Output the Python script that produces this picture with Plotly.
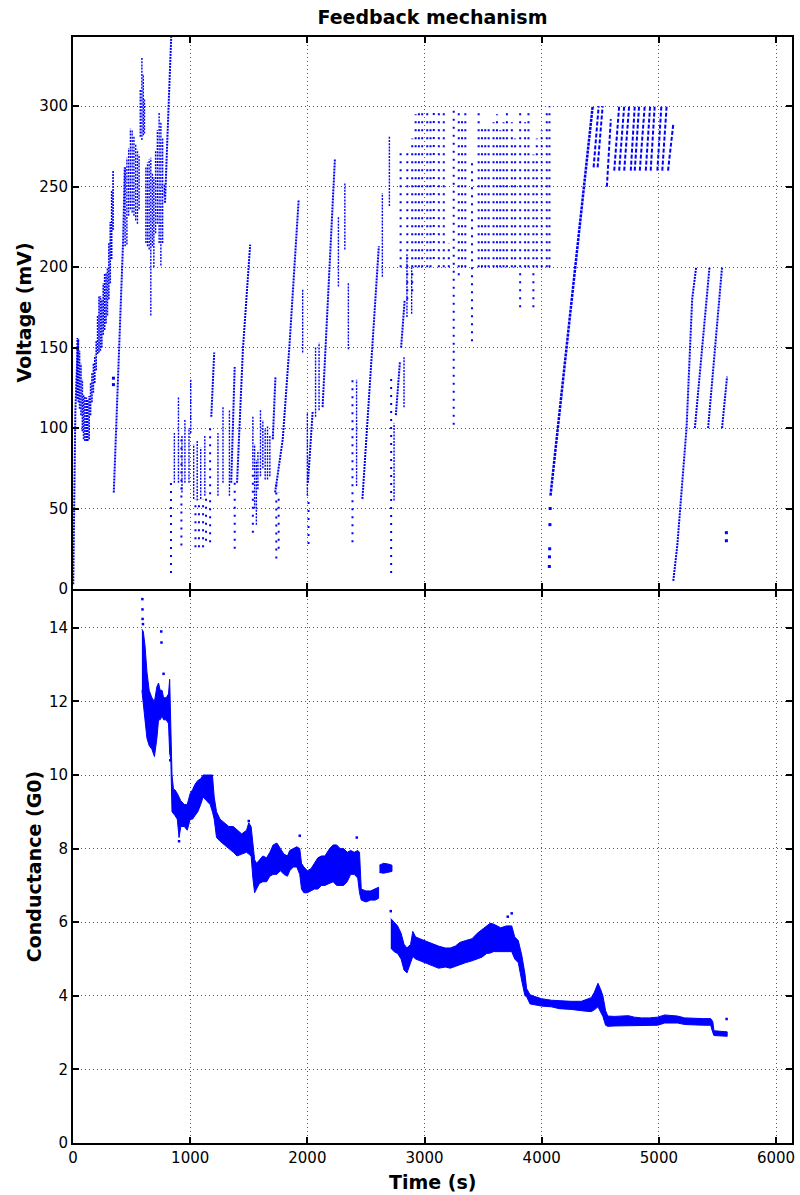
import plotly.graph_objects as go

BLUE = "#0000ff"

# ---------------- Voltage (top panel) ----------------
# dense sweep columns at the start (time s, low mV, high mV)
left_col_t = [36, 46, 56, 68, 80, 90, 102, 114, 126, 138, 150, 162, 174, 186, 198,
              210, 222, 234, 246, 258, 270, 282, 294, 306, 318, 330, 342]
left_col_lo = [118, 116, 112, 108, 98, 93, 92, 92, 92, 93, 108, 116, 122, 128, 136,
               146, 147, 148, 150, 158, 161, 165, 170, 180, 190, 205, 223]
left_col_hi = [156, 155, 148, 140, 130, 121, 120, 119, 118, 120, 128, 134, 140, 145, 154,
               170, 182, 182, 180, 190, 196, 196, 200, 215, 228, 248, 260]

# medium-density columns
mid_col_t = [445, 460, 475, 490, 505, 520, 535, 550, 564,
             574, 588, 600, 610,
             622, 636, 650, 664, 678,
             690, 705, 720, 735, 750, 765, 780,
             865, 900, 930, 955, 990, 1005, 1030, 1060, 1090, 1125,
             1237, 1280, 1335, 1535, 1550, 1565, 1578,
             1600, 1620, 1640, 1660, 1680,
             1960, 2000, 2070, 2100, 2265, 2320, 2350, 2420,
             2640, 2700, 2740, 2825, 2850, 2890]
mid_col_lo = [213, 214, 232, 236, 234, 232, 229, 227, 236,
              281, 279, 282, 283,
              215, 213, 211, 170, 213,
              200, 221, 227, 215, 201, 215, 244,
              66, 66, 60, 66, 66, 97, 56, 55, 56, 58,
              58, 66, 58, 74, 50, 40, 62,
              70, 75, 68, 68, 70,
              147, 58, 107, 111, 188, 211, 149, 64,
              194, 238, 55, 113, 169, 171]
mid_col_hi = [262, 268, 274, 286, 285, 281, 276, 273, 270,
              310, 330, 320, 305,
              262, 265, 267, 268, 258,
              256, 272, 285, 296, 290, 280, 252,
              97, 119, 95, 105, 100, 130, 90, 92, 88, 95,
              97, 113, 111, 107, 90, 80, 86,
              111, 105, 100, 101, 95,
              186, 110, 150, 153, 231, 252, 190, 130,
              246, 281, 103, 144, 208, 200]

# sparse columns (isolated low-voltage excursions)
sparse_col_t = [836, 925, 1045, 1075, 1110, 1135, 1170, 1380, 1535, 1735, 1755, 2010, 2385, 2715]
sparse_col_lo = [10, 27, 26, 26, 26, 30, 29, 25, 35, 19, 25, 28, 29, 10]
sparse_col_hi = [66, 95, 56, 56, 56, 60, 102, 66, 74, 66, 60, 58, 130, 132]

# stepped grid columns 2800-4070 s
grid_col_t = [2796, 2853, 2895, 2924, 2952, 2980, 3023, 3051, 3079, 3122, 3164, 3207,
              3249, 3292, 3320, 3348, 3405, 3462, 3490, 3518, 3547, 3589, 3618, 3646,
              3674, 3703, 3745, 3773, 3816, 3858, 3887, 3929, 3958, 4000, 4043, 4066]
grid_col_lo = [200, 180, 185, 200, 200, 200, 200, 200, 205, 200, 200, 200,
               102, 195, 200, 200, 154, 200, 200, 200, 200, 200, 200, 200,
               200, 200, 200, 200, 175, 200, 200, 175, 200, 200, 200, 200]
grid_col_hi = [271, 272, 280, 295, 298, 296, 298, 293, 298, 298, 298, 215,
               298, 298, 292, 298, 265, 298, 288, 286, 288, 290, 295, 285,
               290, 296, 290, 280, 296, 290, 298, 270, 280, 285, 296, 300]

# continuous ramps (polylines, None separates ramps)
ramp_t = [2, 10, 20, 32, 45, None,
          348, 428, 442, None,
          785, 838, None,
          1180, 1205, None,
          1350, 1380, None,
          1400, 1450, 1512, None,
          1705, 1728, None,
          1725, 1790, 1847, 1926, None,
          2005, 2045, None,
          2130, 2235, None,
          2470, 2555, 2610, None,
          2755, 2790, None,
          2800, 2830, None,
          5123, 5157, 5236, 5284, 5318, None,
          5307, 5432, None,
          5420, 5539, None,
          5539, 5582]
ramp_v = [3, 75, 110, 135, 156, None,
          60, 217, 262, None,
          240, 343, None,
          107, 147, None,
          66, 138, None,
          66, 149, 214, None,
          93, 132, None,
          60, 93, 151, 242, None,
          66, 110, None,
          113, 267, None,
          56, 151, 213, None,
          108, 141, None,
          150, 179, None,
          5, 27, 100, 180, 200, None,
          100, 200, None,
          100, 200, None,
          100, 132]

# long ramp 4070-4435 s
big_ramp_t = [4075, 4256, 4435]
big_ramp_v = [58, 180, 300]

# short saw-tooth strokes 4440-5125 s (start/end)
stripe_t0 = [4443, 4477, 4556, 4619, 4661, 4704, 4760, 4794, 4837, 4888, 4930, 4987, 5029, 5078]
stripe_v0 = [262, 262, 250, 260, 260, 260, 260, 260, 260, 260, 260, 260, 260, 260]
stripe_t1 = [4486, 4520, 4590, 4661, 4704, 4746, 4794, 4831, 4879, 4925, 4964, 5021, 5066, 5123]
stripe_v1 = [300, 300, 292, 300, 300, 300, 300, 300, 300, 300, 300, 300, 300, 289]

# isolated voltage points
dot_t = [345, 345, 4065, 4066, 4068, 4070, 4072, 5576, 5576]
dot_v = [131, 127, 14, 20, 25, 40, 50, 30, 35]

# ---------------- Conductance (bottom panel) ----------------
segA_t = [588, 600, 615, 631, 650, 673, 695, 716, 730, 744, 760, 773, 795, 815, 825, 835, 845, 858,
          870, 890, 905, 920, 950, 975, 1000, 1020, 1042, 1065, 1090, 1110, 1140, 1170, 1190, 1205,
          1225, 1255, 1290, 1330, 1368, 1400, 1440, 1481, 1500, 1520, 1535, 1550, 1567, 1590, 1620,
          1652, 1680, 1708, 1740, 1770, 1800, 1830, 1850, 1880, 1910, 1935, 1950, 1970, 2000, 2030,
          2060, 2090, 2120, 2150, 2190, 2220, 2250, 2280, 2310, 2340, 2370, 2400, 2430, 2445, 2460,
          2500, 2540, 2580, 2608]
segA_lo = [12.3, 12.0, 11.5, 11.0, 10.8, 10.7, 10.5, 11.0, 11.5, 11.5, 11.6, 11.5, 11.5, 11.4, 10.6,
           10.4, 9.0, 8.95, 8.9, 8.8, 8.3, 8.6, 8.6, 8.5, 8.8, 8.8, 8.9, 9.0, 9.2, 9.4, 9.3, 9.2, 9.0,
           8.8, 8.3, 8.2, 8.1, 8.0, 7.9, 7.8, 7.85, 7.9, 7.85, 7.8, 7.2, 6.8, 6.9, 7.05, 7.1, 7.1,
           7.25, 7.3, 7.3, 7.4, 7.3, 7.25, 7.4, 7.5, 7.5, 7.3, 6.9, 6.8, 6.8, 6.85, 6.9, 6.9, 7.0,
           7.0, 7.05, 7.1, 7.0, 7.0, 7.0, 7.1, 7.3, 7.3, 7.2, 6.8, 6.6, 6.55, 6.6, 6.6, 6.65]
segA_hi = [13.96, 13.9, 13.5, 12.8, 12.3, 12.1, 12.0, 12.4, 12.5, 12.3, 12.3, 12.1, 12.1, 12.2, 12.6,
           11.6, 10.0, 9.6, 9.6, 9.5, 9.4, 9.3, 9.2, 9.2, 9.5, 9.6, 9.75, 9.85, 9.9, 10.0, 10.0, 10.0,
           10.0, 9.4, 9.0, 8.8, 8.7, 8.6, 8.6, 8.5, 8.4, 8.5, 8.7, 8.6, 8.2, 7.7, 7.6, 7.7, 7.8, 7.75,
           7.9, 8.1, 8.15, 8.0, 7.85, 7.8, 7.95, 8.0, 8.05, 8.0, 7.6, 7.5, 7.4, 7.45, 7.6, 7.75, 7.8,
           7.8, 8.0, 8.1, 8.1, 8.0, 8.0, 7.9, 7.95, 7.9, 7.95, 7.9, 6.9, 6.85, 6.85, 6.9, 6.95]

segB_t = [2615, 2650, 2690, 2722]
segB_lo = [7.35, 7.33, 7.35, 7.38]
segB_hi = [7.55, 7.6, 7.58, 7.55]

segC_t = [2712, 2740, 2770, 2800, 2825, 2850, 2881, 2900, 2924, 2960, 3000, 3037, 3080, 3120, 3178,
          3220, 3263, 3300, 3350, 3405, 3450, 3490, 3530, 3560, 3588, 3617, 3650, 3700, 3744, 3770,
          3800, 3830, 3857, 3871, 3900, 3942, 4000, 4083, 4150, 4250, 4338, 4380, 4423, 4450, 4480,
          4500, 4522, 4545, 4564, 4620, 4680, 4740, 4790, 4850, 4920, 4989, 5050, 5100, 5159, 5220,
          5300, 5380, 5442, 5460, 5470, 5583]
segC_lo = [5.3, 5.2, 5.15, 5.0, 4.7, 4.62, 4.9, 5.07, 5.0, 4.95, 4.9, 4.85, 4.8, 4.75, 4.78, 4.75,
           4.8, 4.85, 4.9, 4.95, 5.0, 5.05, 5.15, 5.16, 5.2, 5.2, 5.2, 5.2, 5.2, 5.0, 4.9, 4.4, 4.0,
           3.98, 3.78, 3.76, 3.72, 3.7, 3.65, 3.63, 3.6, 3.58, 3.57, 3.62, 3.7, 3.6, 3.44, 3.2, 3.17,
           3.18, 3.2, 3.2, 3.18, 3.18, 3.2, 3.2, 3.26, 3.27, 3.26, 3.22, 3.2, 3.2, 3.2, 3.0, 2.92, 2.9]
segC_hi = [6.1, 6.0, 5.9, 5.7, 5.4, 5.3, 5.4, 5.75, 5.6, 5.55, 5.5, 5.45, 5.4, 5.35, 5.3, 5.3, 5.35,
           5.45, 5.5, 5.55, 5.7, 5.8, 5.9, 5.97, 5.95, 5.9, 5.85, 5.9, 5.9, 5.6, 5.5, 5.1, 4.6, 4.2,
           4.03, 3.98, 3.92, 3.88, 3.86, 3.85, 3.85, 3.9, 3.95, 4.1, 4.34, 4.2, 4.0, 3.6, 3.45, 3.44,
           3.46, 3.46, 3.42, 3.4, 3.4, 3.42, 3.48, 3.47, 3.45, 3.4, 3.38, 3.38, 3.38, 3.3, 3.05, 3.02]

outlier_t = [592, 593, 594, 597, 753, 755, 773, 830, 905, 1500, 1935, 2422, 2712, 3710, 3744, 5578]
outlier_g = [14.78, 14.5, 14.24, 14.1, 13.9, 13.6, 12.75, 10.4, 8.2, 8.75, 8.35, 8.3, 6.3, 6.15, 6.24, 3.37]


def columns_xy(ts, los, his):
    xs, ys = [], []
    for t, lo, hi in zip(ts, los, his):
        xs += [t, t, None]
        ys += [lo, hi, None]
    return xs, ys


def strokes_xy(t0, v0, t1, v1):
    xs, ys = [], []
    for a, b, c, d in zip(t0, v0, t1, v1):
        xs += [a, c, None]
        ys += [b, d, None]
    return xs, ys


def band_xy(ts, lo, hi):
    return list(ts) + list(ts)[::-1], list(hi) + list(lo)[::-1]


fig = go.Figure()


def add_lines(xs, ys, width, dash, xa="x", ya="y"):
    fig.add_trace(go.Scatter(x=xs, y=ys, mode="lines", xaxis=xa, yaxis=ya,
                             line=dict(color=BLUE, width=width, dash=dash),
                             hoverinfo="skip", showlegend=False))


x, y = columns_xy(left_col_t, left_col_lo, left_col_hi)
add_lines(x, y, 1.6, "2px,1px")
x, y = columns_xy(mid_col_t, mid_col_lo, mid_col_hi)
add_lines(x, y, 1.4, "2px,1.2px")
x, y = columns_xy(sparse_col_t, sparse_col_lo, sparse_col_hi)
add_lines(x, y, 2, "2px,6px")
x, y = columns_xy(grid_col_t, grid_col_lo, grid_col_hi)
add_lines(x, y, 2, "2px,6px")
add_lines(ramp_t, ramp_v, 2, "2px,1px")
add_lines(big_ramp_t, big_ramp_v, 2.5, "3px,1px")
x, y = strokes_xy(stripe_t0, stripe_v0, stripe_t1, stripe_v1)
add_lines(x, y, 2, "4px,2px")
fig.add_trace(go.Scatter(x=dot_t, y=dot_v, mode="markers", xaxis="x", yaxis="y",
                         marker=dict(color=BLUE, size=3, symbol="square"),
                         hoverinfo="skip", showlegend=False))

for ts, lo, hi in [(segA_t, segA_lo, segA_hi), (segB_t, segB_lo, segB_hi), (segC_t, segC_lo, segC_hi)]:
    bx, by = band_xy(ts, lo, hi)
    fig.add_trace(go.Scatter(x=bx, y=by, mode="lines", fill="toself", fillcolor=BLUE,
                             xaxis="x2", yaxis="y2", line=dict(color=BLUE, width=1),
                             hoverinfo="skip", showlegend=False))
fig.add_trace(go.Scatter(x=outlier_t, y=outlier_g, mode="markers", xaxis="x2", yaxis="y2",
                         marker=dict(color=BLUE, size=2.5, symbol="square"),
                         hoverinfo="skip", showlegend=False))

tickfont = dict(family="DejaVu Sans", size=15, color="black")
common = dict(showline=True, linecolor="black", linewidth=2, mirror="ticks",
              ticks="inside", ticklen=6, tickwidth=1.5, tickcolor="black",
              showgrid=True, gridcolor="#555555", gridwidth=1, griddash="1px,3px",
              zeroline=False, tickfont=tickfont)

PLOT_H = 1106.0
top_dom0 = 554 / PLOT_H   # top panel bottom edge (px 589)
bot_dom1 = 552 / PLOT_H   # bottom panel top edge (px 591)

fig.update_layout(
    width=800, height=1195,
    margin=dict(l=73, r=5, t=37, b=52),
    paper_bgcolor="white", plot_bgcolor="white",
    showlegend=False,
    title=dict(text="<b>Feedback mechanism</b>", x=0.5, xref="paper",
               y=1 - 17.5 / 1195, yref="container", yanchor="middle", xanchor="center",
               font=dict(family="DejaVu Sans", size=19, color="black")),
    xaxis=dict(domain=[0, 1], anchor="y", range=[0, 6136], dtick=1000, tick0=0,
               showticklabels=False, **common),
    xaxis2=dict(domain=[0, 1], anchor="y2", range=[0, 6136], dtick=1000, tick0=0,
                matches="x", **common),
    yaxis=dict(domain=[top_dom0, 1], anchor="x", range=[0, 343], dtick=50, tick0=0, **common),
    yaxis2=dict(domain=[0, bot_dom1], anchor="x2", range=[0, 15], dtick=2, tick0=0, **common),
    annotations=[
        dict(text="<b>Voltage (mV)</b>", xref="paper", yref="paper", x=(23.3 - 73) / 722,
             y=(1 + top_dom0) / 2,
             textangle=-90, xanchor="center", yanchor="middle", showarrow=False,
             font=dict(family="DejaVu Sans", size=19, color="black")),
        dict(text="<b>Conductance (G0)</b>", xref="paper", yref="paper", x=(34 - 73) / 722,
             y=bot_dom1 / 2,
             textangle=-90, xanchor="center", yanchor="middle", showarrow=False,
             font=dict(family="DejaVu Sans", size=19, color="black")),
        dict(text="<b>Time (s)</b>", xref="paper", yref="paper", x=0.5, y=-(1182 - 1143) / PLOT_H,
             xanchor="center", yanchor="middle", showarrow=False,
             font=dict(family="DejaVu Sans", size=19, color="black")),
    ],
)

fig.write_html("out.html")
